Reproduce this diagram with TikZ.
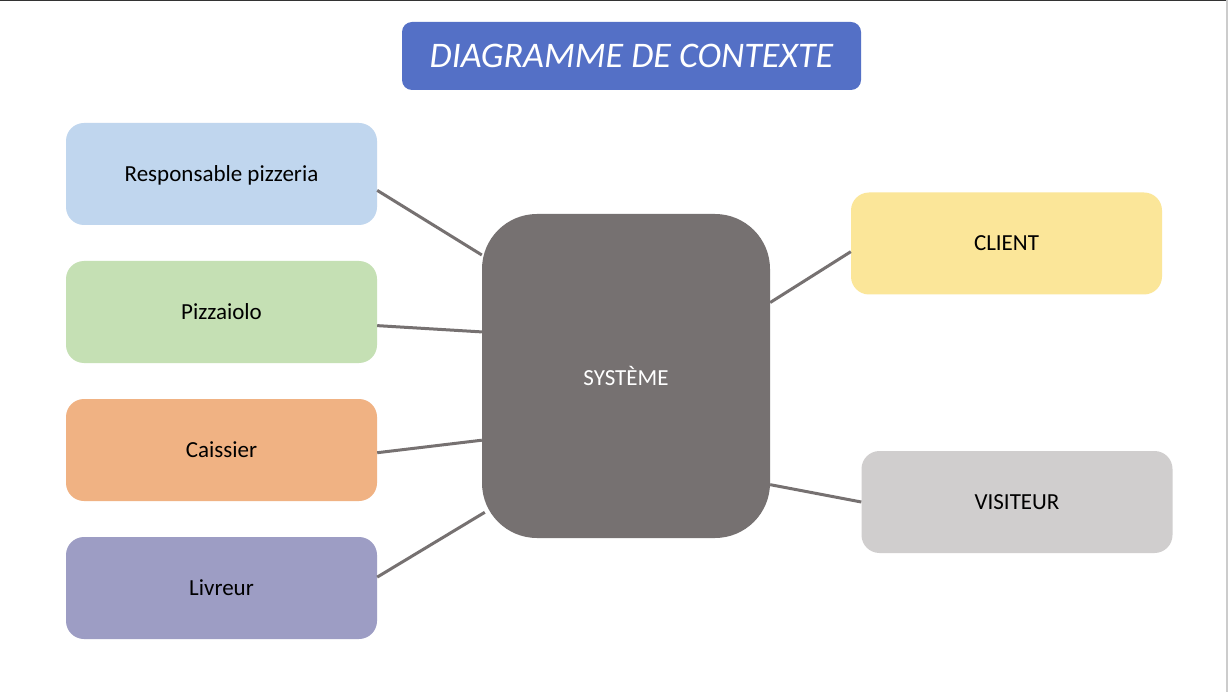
\documentclass[tikz,border=0pt]{standalone}
\usepackage{fontspec}
\setmainfont{Carlito}
\definecolor{titleblue}{RGB}{84,112,198}
\definecolor{respblue}{RGB}{192,214,238}
\definecolor{pizzgreen}{RGB}{197,224,180}
\definecolor{caisorange}{RGB}{240,178,131}
\definecolor{livpurple}{RGB}{157,157,196}
\definecolor{sysgray}{RGB}{118,113,113}
\definecolor{clientyellow}{RGB}{251,230,153}
\definecolor{visgray}{RGB}{208,206,206}
\tikzset{
  actor/.style={rounded corners=18pt, minimum width=311pt, minimum height=102pt,
    inner sep=0pt, text depth=0pt, font=\fontsize{23}{27}\selectfont, text=black},
  link/.style={line width=3pt, sysgray}
}
\begin{document}
\begin{tikzpicture}[x=1pt,y=-1pt]
\useasboundingbox (0,0) rectangle (1228,692);
\fill[white] (0,0) rectangle (1228,692);
\draw[line width=2pt,black!80] (0,0) -- (1228,0); % top border
\draw[line width=1.5pt,black!20] (1227,0) -- (1227,692); % right border

% title
\node[fill=titleblue, rounded corners=10pt, minimum width=459pt, minimum height=68pt,
  text=white, font=\fontsize{36}{42}\selectfont\itshape] (title) at (631.5,56) {DIAGRAMME DE CONTEXTE};

% system
\node[fill=sysgray, rounded corners=55pt, minimum width=288pt, minimum height=324pt,
  text=white, text depth=0pt, font=\fontsize{23}{27}\selectfont] (sys) at (626,376) {SYSTÈME};

% actors left
\node[actor, fill=respblue] (resp) at (221.5,174) {Responsable pizzeria};
\node[actor, fill=pizzgreen] (pizz) at (221.5,312) {Pizzaiolo};
\node[actor, fill=caisorange] (cais) at (221.5,450) {Caissier};
\node[actor, fill=livpurple] (livr) at (221.5,588) {Livreur};

% actors right
\node[actor, fill=clientyellow] (client) at (1006.5,243.5) {CLIENT};
\node[actor, fill=visgray] (visit) at (1017,502) {VISITEUR};

% links
\draw[link] (resp.-6) -- (sys.140);
\draw[link] (pizz.-5.5) -- (sys.163.3);
\draw[link] (cais.-1.5) -- (sys.-156);
\draw[link] (livr.4.4) -- ([xshift=3pt,yshift=3pt]sys.-136.5);
\draw[link] (client.183) -- (sys.27.5);
\draw[link] (visit.west) -- (sys.-37.6);

\end{tikzpicture}
\end{document}
